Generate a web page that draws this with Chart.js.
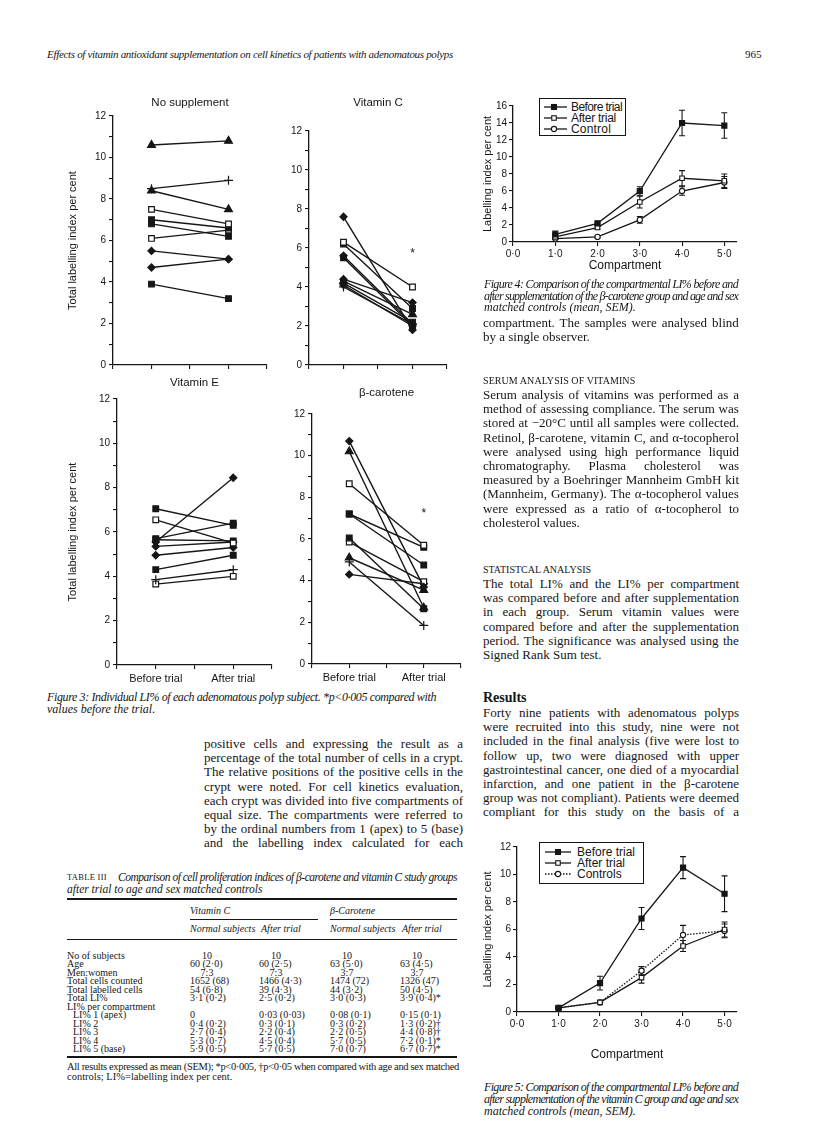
<!DOCTYPE html>
<html>
<head>
<meta charset="utf-8">
<title>Effects of vitamin antioxidant supplementation on cell kinetics</title>
<script src="https://cdn.jsdelivr.net/npm/chart.js@4.4.1/dist/chart.umd.min.js"></script>
<style>
  html, body { margin: 0; padding: 0; background: #fff; }
  #page { position: relative; width: 816px; height: 1136px; overflow: hidden; color: #161616; }
  #page canvas { position: absolute; }
  .t { position: absolute; white-space: nowrap; }
  .rule { position: absolute; background: #161616; }
  .legend { position: absolute; border: 1.3px solid #161616; background: #fff; box-sizing: border-box; }
</style>
</head>
<body>
<div id="page"></div>
<script>
"use strict";

// ---- Figure 3: total LI% of each subject, before / after trial ----
const trialX = [1, 3];
const trialLabels = ["Before trial", "After trial"];

const noSuppBefore = [10.6, 8.5, 8.4, 7.5, 7.0, 6.8, 6.1, 5.5, 4.7, 3.9];
const noSuppAfter  = [10.8, 8.9, 7.5, 6.8, 6.6, 6.2, 6.5, 5.1, 5.1, 3.2];
const noSuppMarks  = ["tri", "plus", "tri", "osq", "sq", "sq", "osq", "dot", "dot", "sq"];

const vitCBefore = [7.6, 6.3, 6.2, 5.6, 5.5, 4.4, 4.3, 4.2, 4.1, 4.0];
const vitCAfter  = [1.8, 4.0, 2.9, 2.1, 2.0, 3.2, 2.6, 2.2, 2.0, 2.1];
const vitCMarks  = ["dot", "osq", "sq", "dot", "sq", "dot", "tri", "sq", "dot", "plus"];
const vitCStar = 5.8;

const vitEBefore = [7.05, 6.55, 5.7, 5.55, 5.65, 5.35, 4.95, 4.3, 3.85, 3.65];
const vitEAfter  = [6.3, 5.5, 6.4, 8.45, 5.6, 5.55, 5.3, 4.95, 4.3, 4.0];
const vitEMarks  = ["sq", "osq", "sq", "dot", "sq", "dot", "dot", "sq", "plus", "osq"];

const betaBefore = [10.7, 10.2, 8.65, 7.2, 7.2, 6.05, 5.85, 5.1, 4.9, 4.3];
const betaAfter  = [3.7, 2.7, 5.7, 5.6, 4.75, 2.65, 3.95, 3.55, 1.85, 3.85];
const betaMarks  = ["dot", "tri", "osq", "sq", "sq", "sq", "osq", "tri", "plus", "dot"];
const betaStar = 7.3;

// ---- Figures 4 and 5: LI% per compartment (mean, SEM) ----
const compartments = [1, 2, 3, 4, 5];
const compTicks = [0, 1, 2, 3, 4, 5];

const fig4Labels = ["Before trial", "After trial", "Control"];
const fig4Before = [0.9, 2.2, 6.0, 14.0, 13.7];
const fig4BeforeSem = [0.4, 0.2, 0.5, 1.5, 1.5];
const fig4After = [0.6, 1.7, 4.7, 7.5, 7.2];
const fig4AfterSem = [0.3, 0.2, 0.7, 0.9, 0.8];
const fig4Control = [0.4, 0.6, 2.6, 6.0, 7.0];
const fig4ControlSem = [0.1, 0.1, 0.4, 0.5, 0.7];

const fig5Labels = ["Before trial", "After trial", "Controls"];
const fig5Before = [0.3, 2.1, 6.8, 10.5, 8.6];
const fig5BeforeSem = [0.1, 0.5, 0.8, 0.8, 1.3];
const fig5After = [0.3, 0.7, 2.5, 4.8, 6.0];
const fig5AfterSem = [0.05, 0.1, 0.4, 0.4, 0.55];
const fig5Controls = [0.3, 0.7, 3.0, 5.6, 5.9];
const fig5ControlsSem = [0.05, 0.1, 0.3, 0.7, 0.5];

// ---- Table III ----
const tableRows = [
  ["No of subjects", "10", "10", "10", "10"],
  ["Age", "60 (2·0)", "60 (2·5)", "63 (5·0)", "63 (4·5)"],
  ["Men:women", "7:3", "7:3", "3:7", "3:7"],
  ["Total cells counted", "1652 (68)", "1466 (4·3)", "1474 (72)", "1326 (47)"],
  ["Total labelled cells", "54 (6·8)", "39 (4·3)", "44 (3·2)", "50 (4·5)"],
  ["Total LI%", "3·1 (0·2)", "2·5 (0·2)", "3·0 (0·3)", "3·9 (0·4)*"],
  ["LI% per compartment", "", "", "", ""],
  ["LI% 1 (apex)", "0", "0·03 (0·03)", "0·08 (0·1)", "0·15 (0·1)"],
  ["LI% 2", "0·4 (0·2)", "0·3 (0·1)", "0·3 (0·2)", "1·3 (0·2)†"],
  ["LI% 3", "2·7 (0·4)", "2·2 (0·4)", "2·2 (0·5)", "4·4 (0·8)†"],
  ["LI% 4", "5·3 (0·7)", "4·5 (0·4)", "5·7 (0·5)", "7·2 (0·1)*"],
  ["LI% 5 (base)", "5·9 (0·5)", "5·7 (0·5)", "7·0 (0·7)", "6·7 (0·7)*"],
];

const page = document.getElementById("page");
const SANS = '"Liberation Sans", Arial, sans-serif';
const SERIF = '"Liberation Serif", "Times New Roman", serif';
const INK = "#161616";

Chart.defaults.font.family = SANS;
Chart.defaults.color = INK;

/* ---------- small text helper ---------- */
const mctx = document.createElement("canvas").getContext("2d");

function put(txt, x, y, font, o = {}) {
  const d = document.createElement("div");
  d.className = "t";
  d.style.font = font;
  d.style.lineHeight = (o.lh || 14) + "px";
  d.style.left = x + "px";
  d.style.top = (y - (o.lh || 14) / 2) + "px";
  d.textContent = txt;
  if (o.w) {
    mctx.font = font;
    const nat = mctx.measureText(txt).width;
    const gaps = (txt.match(/ /g) || []).length;
    if (o.justify && nat < o.w && gaps) {
      d.style.wordSpacing = ((o.w - nat) / gaps) + "px";
    } else {
      d.style.letterSpacing = ((o.w - nat) / txt.length) + "px";
    }
  }
  if (o.css) Object.assign(d.style, o.css);
  page.appendChild(d);
  return d;
}

function para(lines, x, y0, w, step, font, closes) {
  lines.forEach((l, i) => {
    const last = closes && i === lines.length - 1;
    put(l, x, y0 + i * step, font, last ? {} : { w, justify: true });
  });
}

function rule(x, y, w, h) {
  const r = document.createElement("div");
  r.className = "rule";
  Object.assign(r.style, { left: x + "px", top: y + "px", width: w + "px", height: h + "px" });
  page.appendChild(r);
}

function addCanvas(box) {
  const c = document.createElement("canvas");
  c.width = box.w;
  c.height = box.h;
  Object.assign(c.style, { left: box.x + "px", top: box.y + "px", width: box.w + "px", height: box.h + "px" });
  page.appendChild(c);
  return c;
}

function axisLook() {
  return {
    border: { color: INK, width: 1.3 },
    grid: { drawOnChartArea: false, color: INK, tickLength: 4, lineWidth: 1.1 },
  };
}

/* ---------- Figure 3 panels ---------- */
const markStyle = {
  sq:   { pointStyle: "rect", radius: 4, fill: INK },
  osq:  { pointStyle: "rect", radius: 4, fill: "#fff" },
  tri:  { pointStyle: "triangle", radius: 4.5, fill: INK },
  dot:  { pointStyle: "rectRot", radius: 3.6, fill: INK },
  plus: { pointStyle: "cross", radius: 4.5, fill: INK },
};

function starMark(val) {
  return {
    id: "star",
    afterDatasetsDraw(chart) {
      if (val == null) return;
      const { ctx, scales: { x, y } } = chart;
      ctx.save();
      ctx.fillStyle = INK;
      ctx.font = "12px " + SANS;
      ctx.textAlign = "center";
      ctx.textBaseline = "middle";
      ctx.fillText("*", x.getPixelForValue(trialX[1]), y.getPixelForValue(val) + 2);
      ctx.restore();
    },
  };
}

const PANEL_TITLE = 11.5;

function buildPanel(p) {
  const yW = p.yTitleX ? p.area.l - (p.yTitleX - 6.6) : 30;
  const xH = p.showX ? 22 : 6;
  const tPad = p.area.t - p.titleY - PANEL_TITLE * 0.6;
  const titleH = PANEL_TITLE * 1.2 + tPad;
  const c = addCanvas(p.box);

  const datasets = p.before.map((b, i) => {
    const m = markStyle[p.marks[i]];
    return {
      data: [{ x: trialX[0], y: b }, { x: trialX[1], y: p.after[i] }],
      borderColor: INK,
      borderWidth: 1.4,
      pointStyle: m.pointStyle,
      pointRadius: m.radius,
      pointBackgroundColor: m.fill,
      pointBorderColor: INK,
      pointBorderWidth: 1.2,
    };
  });

  new Chart(c, {
    type: "line",
    data: { datasets },
    options: {
      responsive: false,
      animation: false,
      layout: {
        autoPadding: false,
        padding: {
          left: p.area.l - p.box.x - yW,
          top: p.area.t - p.box.y - titleH,
          right: p.box.x + p.box.w - p.area.r,
          bottom: p.box.y + p.box.h - p.area.b - xH,
        },
      },
      plugins: {
        legend: { display: false },
        tooltip: { enabled: false },
        title: {
          display: true,
          text: p.title,
          fullSize: false,
          color: INK,
          font: { family: SANS, size: PANEL_TITLE, weight: "normal" },
          padding: { top: 0, bottom: tPad },
        },
      },
      scales: {
        x: {
          type: "linear",
          min: 0,
          max: 4,
          ...axisLook(),
          afterBuildTicks: (s) => { s.ticks = [0, 1, 2, 3, 4].map((v) => ({ value: v })); },
          afterFit: (s) => { s.height = xH; },
          ticks: {
            autoSkip: false,
            maxRotation: 0,
            padding: 3,
            color: INK,
            font: { family: SANS, size: 11 },
            callback: (v) => {
              const k = trialX.indexOf(v);
              return p.showX && k >= 0 ? trialLabels[k] : "";
            },
          },
        },
        y: {
          min: 0,
          max: 12,
          ...axisLook(),
          afterFit: (s) => { s.width = yW; },
          ticks: {
            stepSize: 1,
            padding: 3,
            color: INK,
            font: { family: SANS, size: 10 },
            callback: (v) => (v % 2 === 0 ? v : ""),
          },
          title: p.yTitleX
            ? { display: true, text: "Total labelling index per cent", color: INK,
                font: { family: SANS, size: 11 }, padding: { top: 0, bottom: 0 } }
            : { display: false },
        },
      },
    },
    plugins: [starMark(p.star)],
  });
}

buildPanel({
  box: { x: 40, y: 92, w: 232, h: 282 }, area: { l: 113, t: 116, r: 267, b: 368 },
  title: "No supplement", titleY: 103, yTitleX: 73, showX: false,
  before: noSuppBefore, after: noSuppAfter, marks: noSuppMarks,
});
buildPanel({
  box: { x: 270, y: 92, w: 182, h: 282 }, area: { l: 309, t: 131, r: 447, b: 367 },
  title: "Vitamin C", titleY: 103, showX: false, star: vitCStar,
  before: vitCBefore, after: vitCAfter, marks: vitCMarks,
});
buildPanel({
  box: { x: 40, y: 374, w: 237, h: 316 }, area: { l: 117, t: 399, r: 272, b: 665 },
  title: "Vitamin E", titleY: 383, yTitleX: 73, showX: true,
  before: vitEBefore, after: vitEAfter, marks: vitEMarks,
});
buildPanel({
  box: { x: 272, y: 374, w: 194, h: 316 }, area: { l: 312, t: 414, r: 461, b: 664 },
  title: "β-carotene", titleY: 393, showX: true, star: betaStar,
  before: betaBefore, after: betaAfter, marks: betaMarks,
});

/* ---------- Figures 4 and 5 ---------- */
const semBars = {
  id: "semBars",
  beforeDatasetsDraw(chart) {
    const { ctx, scales: { y } } = chart;
    ctx.save();
    ctx.strokeStyle = INK;
    ctx.lineWidth = 1.1;
    chart.data.datasets.forEach((ds, i) => {
      const meta = chart.getDatasetMeta(i);
      ds.sem.forEach((e, j) => {
        const px = meta.data[j].x;
        const v = ds.data[j].y;
        const top = y.getPixelForValue(v + e);
        const bot = y.getPixelForValue(v - e);
        ctx.beginPath();
        ctx.moveTo(px, top); ctx.lineTo(px, bot);
        ctx.moveTo(px - 3, top); ctx.lineTo(px + 3, top);
        ctx.moveTo(px - 3, bot); ctx.lineTo(px + 3, bot);
        ctx.stroke();
      });
    });
    ctx.restore();
  },
};

const compStyles = [
  { pointStyle: "rect", radius: 3.6, fill: INK, shape: "rect", size: 5 },
  { pointStyle: "rect", radius: 3.2, fill: "#fff", shape: "rect", size: 4.5 },
  { pointStyle: "circle", radius: 2.6, fill: "#fff", shape: "circle", size: 2.6 },
];

function buildCompFig(f) {
  const c = addCanvas(f.box);
  const xH = f.xTitleY - f.area.b + 7.2;
  const yW = f.area.l - (f.yTitleX - 6.6);

  const datasets = f.series.map((s, i) => ({
    label: f.labels[i],
    data: compartments.map((x, j) => ({ x, y: s[j] })),
    sem: f.sems[i],
    borderColor: INK,
    borderWidth: 1.3,
    borderDash: f.dashes[i],
    pointStyle: compStyles[i].pointStyle,
    pointRadius: compStyles[i].radius,
    pointBackgroundColor: compStyles[i].fill,
    pointBorderColor: INK,
    pointBorderWidth: 1.1,
  }));

  new Chart(c, {
    type: "line",
    data: { datasets },
    options: {
      responsive: false,
      animation: false,
      layout: {
        autoPadding: false,
        padding: {
          left: f.area.l - f.box.x - yW,
          top: f.area.t - f.box.y,
          right: f.box.x + f.box.w - f.area.r,
          bottom: f.box.y + f.box.h - f.area.b - xH,
        },
      },
      plugins: { legend: { display: false }, tooltip: { enabled: false } },
      scales: {
        x: {
          type: "linear",
          min: 0,
          max: 5.3,
          ...axisLook(),
          afterBuildTicks: (s) => { s.ticks = compTicks.map((v) => ({ value: v })); },
          afterFit: (s) => { s.height = xH; },
          ticks: {
            autoSkip: false,
            maxRotation: 0,
            padding: 2,
            color: INK,
            font: { family: SANS, size: 10 },
            callback: (v) => v.toFixed(1).replace(".", "·"),
          },
          title: { display: true, text: "Compartment", color: INK,
                   font: { family: SANS, size: 12 }, padding: { top: 0, bottom: 0 } },
        },
        y: {
          min: 0,
          max: f.yMax,
          ...axisLook(),
          afterFit: (s) => { s.width = yW; },
          ticks: { stepSize: 2, padding: 2, color: INK, font: { family: SANS, size: 10 } },
          title: { display: true, text: "Labelling index per cent", color: INK,
                   font: { family: SANS, size: 11 }, padding: { top: 0, bottom: 0 } },
        },
      },
    },
    plugins: [semBars],
  });

  // legend box drawn from the same labels and styles
  const L = f.legend;
  const box = document.createElement("div");
  box.className = "legend";
  Object.assign(box.style, { left: L.x + "px", top: L.y + "px", width: L.w + "px", height: L.h + "px" });
  f.labels.forEach((lab, i) => {
    const st = compStyles[i];
    const dash = f.dashes[i].length ? `stroke-dasharray="${f.dashes[i].join(" ")}"` : "";
    const mk = st.shape === "circle"
      ? `<circle cx="${L.mx}" cy="5" r="${st.size}" fill="${st.fill}" stroke="${INK}" stroke-width="1.1"/>`
      : `<rect x="${L.mx - st.size / 2}" y="${5 - st.size / 2}" width="${st.size}" height="${st.size}" fill="${st.fill}" stroke="${INK}" stroke-width="1.1"/>`;
    box.insertAdjacentHTML("beforeend",
      `<svg width="${L.sw}" height="10" style="position:absolute;left:${L.sx}px;top:${L.rows[i] - 5}px">` +
      `<line x1="0" y1="5" x2="${L.sw}" y2="5" stroke="${INK}" stroke-width="1.3" ${dash}/>${mk}</svg>`);
  });
  page.appendChild(box);
  f.labels.forEach((lab, i) => {
    put(lab, L.x + L.tx, L.y + L.rows[i] + 1, "12px " + SANS, L.tw ? { w: L.tw[i] } : {});
  });
}

buildCompFig({
  box: { x: 470, y: 95, w: 275, h: 190 }, area: { l: 513, t: 106, r: 737, b: 242 },
  xTitleY: 266, yTitleX: 488, yMax: 16,
  labels: fig4Labels,
  series: [fig4Before, fig4After, fig4Control],
  sems: [fig4BeforeSem, fig4AfterSem, fig4ControlSem],
  dashes: [[], [], []],
  legend: { x: 539, y: 98, w: 87, h: 38, rows: [8, 19, 30], sx: 4, sw: 23, mx: 10, tx: 32, tw: [51, 45, 40] },
});

buildCompFig({
  box: { x: 470, y: 838, w: 275, h: 230 }, area: { l: 517, t: 847, r: 737, b: 1012 },
  xTitleY: 1055, yTitleX: 488, yMax: 12,
  labels: fig5Labels,
  series: [fig5Before, fig5After, fig5Controls],
  sems: [fig5BeforeSem, fig5AfterSem, fig5ControlsSem],
  dashes: [[], [], [1.5, 1.5]],
  legend: { x: 539, y: 842, w: 105, h: 42, rows: [9, 20, 31], sx: 5, sw: 26, mx: 13, tx: 38 },
});

/* ---------- page text ---------- */
const body = "13px " + SERIF;
const cap = "italic 12px " + SERIF;

put("Effects of vitamin antioxidant supplementation on cell kinetics of patients with adenomatous polyps",
    47, 54, "italic 11px " + SERIF, { w: 406 });
put("965", 745, 54, "11px " + SERIF);

put("Figure 3: Individual LI% of each adenomatous polyp subject. *p<0·005 compared with",
    47, 697, cap, { w: 389, justify: true });
put("values before the trial.", 47, 709, cap);

para([
  "positive cells and expressing the result as a",
  "percentage of the total number of cells in a crypt.",
  "The relative positions of the positive cells in the",
  "crypt were noted. For cell kinetics evaluation,",
  "each crypt was divided into five compartments of",
  "equal size. The compartments were referred to",
  "by the ordinal numbers from 1 (apex) to 5 (base)",
  "and the labelling index calculated for each",
], 204, 744, 259, 14.2, body, false);

put("Figure 4: Comparison of the compartmental LI% before and", 484, 284, cap, { w: 254, justify: true });
put("after supplementation of the β-carotene group and age and sex", 484, 296, cap, { w: 254, justify: true });
put("matched controls (mean, SEM).", 484, 307, cap);

para([
  "compartment. The samples were analysed blind",
  "by a single observer.",
], 483, 323, 256, 14.2, body, true);

put("SERUM ANALYSIS OF VITAMINS", 483, 381, "10px " + SERIF, { w: 153 });
para([
  "Serum analysis of vitamins was performed as a",
  "method of assessing compliance. The serum was",
  "stored at −20°C until all samples were collected.",
  "Retinol, β-carotene, vitamin C, and α-tocopherol",
  "were analysed using high performance liquid",
  "chromatography. Plasma cholesterol was",
  "measured by a Boehringer Mannheim GmbH kit",
  "(Mannheim, Germany). The α-tocopherol values",
  "were expressed as a ratio of α-tocopherol to",
  "cholesterol values.",
], 483, 395, 256, 14.2, body, true);

put("STATISTCAL ANALYSIS", 483, 570, "10px " + SERIF, { w: 109 });
para([
  "The total LI% and the LI% per compartment",
  "was compared before and after supplementation",
  "in each group. Serum vitamin values were",
  "compared before and after the supplementation",
  "period. The significance was analysed using the",
  "Signed Rank Sum test.",
], 483, 584, 256, 14.2, body, true);

put("Results", 483, 698, "bold 14px " + SERIF);
para([
  "Forty nine patients with adenomatous polyps",
  "were recruited into this study, nine were not",
  "included in the final analysis (five were lost to",
  "follow up, two were diagnosed with upper",
  "gastrointestinal cancer, one died of a myocardial",
  "infarction, and one patient in the β-carotene",
  "group was not compliant). Patients were deemed",
  "compliant for this study on the basis of a",
], 483, 713, 256, 14.2, body, false);

put("Figure 5: Comparison of the compartmental LI% before and", 484, 1087, cap, { w: 254, justify: true });
put("after supplementation of the vitamin C group and age and sex", 484, 1099, cap, { w: 254, justify: true });
put("matched controls (mean, SEM).", 484, 1111, cap);

/* ---------- Table III ---------- */
const tcell = "10px " + SERIF;
const thead = "italic 10px " + SERIF;
const colX = [190, 259, 330, 400];

put("TABLE III", 67, 877, "8.5px " + SERIF, { w: 40 });
put("Comparison of cell proliferation indices of β-carotene and vitamin C study groups",
    118, 877, "italic 11.5px " + SERIF, { w: 339, justify: true });
put("after trial to age and sex matched controls", 67, 889, "italic 11.5px " + SERIF);

rule(67, 898, 390, 2);
put("Vitamin C", colX[0], 911, thead);
put("β-Carotene", colX[2], 911, thead);
rule(190, 919, 128, 0.8);
rule(330, 919, 127, 0.8);
put("Normal subjects", colX[0], 929, thead);
put("After trial", colX[1] + 2, 929, thead);
put("Normal subjects", colX[2], 929, thead);
put("After trial", colX[3] + 2, 929, thead);
rule(67, 939, 390, 0.8);

tableRows.forEach((row, r) => {
  const y = 955 + r * 8.5;
  const indent = r >= 7 ? 6 : 0;
  put(row[0], 67 + indent, y, tcell, { lh: 9 });
  row.slice(1).forEach((v, k) => {
    if (!v) return;
    const centred = r === 0 || r === 2;
    put(v, colX[k], y, tcell, centred ? { lh: 9, css: { width: "34px", textAlign: "center" } } : { lh: 9 });
  });
});
rule(67, 1056, 390, 1.5);
put("All results expressed as mean (SEM); *p<0·005, †p<0·05 when compared with age and sex matched",
    67, 1067, "10.5px " + SERIF, { w: 392, justify: true });
put("controls; LI%=labelling index per cent.", 67, 1077, "10.5px " + SERIF);
</script>
</body>
</html>
